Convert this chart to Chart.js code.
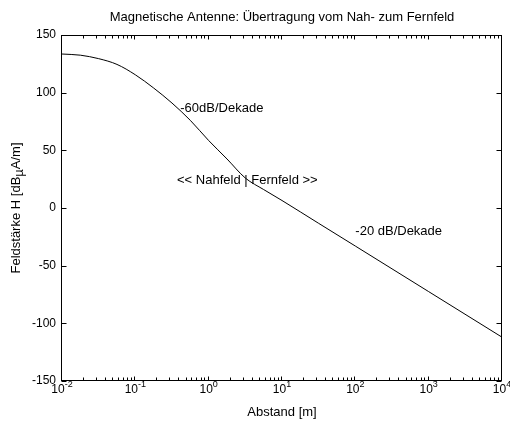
<!DOCTYPE html>
<html>
<head>
<meta charset="utf-8">
<script src="https://cdn.jsdelivr.net/npm/chart.js@4"></script>
<style>
  html, body { margin: 0; padding: 0; background: #fff; }
  canvas { display: block; }
</style>
</head>
<body>
<canvas id="chart" width="510" height="422"></canvas>
<script>
// ---------------- Data ----------------
const distances = [0.01, 0.0178, 0.0316, 0.0562, 0.1, 0.178, 0.316, 0.562, 1, 1.78, 3.16, 5.62, 10, 31.6, 100, 1000, 10000];
const fieldStrength = [133.5, 132.5, 129.5, 124.5, 115.5, 104, 91, 76, 58.5, 42.5, 26, 16, 6.5, -13.3, -33, -72.5, -112];

const yTicks = [150, 100, 50, 0, -50, -100, -150];
const xExponents = [-2, -1, 0, 1, 2, 3, 4];

const titleText = "Magnetische Antenne: Übertragung vom Nah- zum Fernfeld";
const xTitle = "Abstand [m]";
const yTitleParts = ["Feldstärke H [dB", "µ", "A/m]"];

const annotations = [
  { x: 0.41, y: 86.5, text: "-60dB/Dekade" },
  { x: 0.37, y: 23.5, text: "<< Nahfeld | Fernfeld >>" },
  { x: 100, y: -20.5, text: "-20 dB/Dekade" }
];

const TICK_FONT = "12px 'Liberation Sans', Arial, sans-serif";
const TEXT_FONT = "13px 'Liberation Sans', Arial, sans-serif";
const SMALL_FONT = "9px 'Liberation Sans', Arial, sans-serif";

// ---------------- Axes plugin (MATLAB style box + inward ticks) ----------------
const matlabAxes = {
  id: "matlabAxes",
  beforeDraw(chart) {
    const ctx = chart.ctx;
    ctx.save();
    ctx.fillStyle = "#fff";
    ctx.fillRect(0, 0, chart.width, chart.height);
    ctx.restore();
  },
  afterDraw(chart) {
    const { ctx, chartArea: a } = chart;
    const xs = chart.scales.x, ys = chart.scales.y;
    const L = Math.round(a.left) - 0.5, R = Math.round(a.right) - 0.5;
    const T = Math.round(a.top) + 0.5, B = Math.round(a.bottom) - 0.5;

    ctx.save();
    ctx.strokeStyle = "#000";
    ctx.lineWidth = 1;
    ctx.strokeRect(L, T, R - L, B - T);

    ctx.beginPath();
    // x ticks, major and minor, bottom and top
    xExponents.forEach((e, i) => {
      for (let k = 1; k <= 9; k++) {
        if (k > 1 && i === xExponents.length - 1) break;
        const px = Math.round(xs.getPixelForValue(k * Math.pow(10, e))) - 0.5;
        const len = k === 1 ? 4 : 3;
        ctx.moveTo(px, B); ctx.lineTo(px, B - len);
        ctx.moveTo(px, T); ctx.lineTo(px, T + len);
      }
    });
    // y ticks, left and right
    yTicks.forEach(v => {
      const py = Math.round(ys.getPixelForValue(v)) + 0.5;
      ctx.moveTo(L, py); ctx.lineTo(L + 5, py);
      ctx.moveTo(R, py); ctx.lineTo(R - 5, py);
    });
    ctx.stroke();

    ctx.fillStyle = "#000";

    // y tick labels
    ctx.font = TICK_FONT;
    ctx.textAlign = "right";
    ctx.textBaseline = "middle";
    yTicks.forEach(v => {
      ctx.fillText(String(v), a.left - 6, ys.getPixelForValue(v));
    });

    // x tick labels 10^n
    xExponents.forEach(e => {
      const px = xs.getPixelForValue(Math.pow(10, e));
      ctx.font = TICK_FONT;
      const wBase = ctx.measureText("10").width;
      ctx.font = SMALL_FONT;
      const wExp = ctx.measureText(String(e)).width;
      const start = px - (wBase + wExp) / 2;
      ctx.textAlign = "left";
      ctx.textBaseline = "middle";
      ctx.font = TICK_FONT;
      ctx.fillText("10", start, a.bottom + 9);
      ctx.font = SMALL_FONT;
      ctx.fillText(String(e), start + wBase, a.bottom + 4);
    });

    // titles
    ctx.font = TEXT_FONT;
    ctx.textAlign = "center";
    ctx.textBaseline = "middle";
    ctx.fillText(xTitle, (a.left + a.right) / 2, a.bottom + 31);
    ctx.fillText(titleText, (a.left + a.right) / 2, a.top - 18);

    // rotated y title with subscript µ
    ctx.save();
    ctx.translate(16, (a.top + a.bottom) / 2);
    ctx.rotate(-Math.PI / 2);
    const widths = yTitleParts.map(t => ctx.measureText(t).width);
    const total = widths.reduce((s, w) => s + w, 0);
    let cx = -total / 2;
    ctx.textAlign = "left";
    yTitleParts.forEach((t, i) => {
      ctx.fillText(t, cx, i === 1 ? 3 : 0);
      cx += widths[i];
    });
    ctx.restore();

    // text annotations placed in data coordinates
    ctx.textAlign = "left";
    ctx.textBaseline = "middle";
    annotations.forEach(n => {
      ctx.fillText(n.text, xs.getPixelForValue(n.x), ys.getPixelForValue(n.y));
    });
    ctx.restore();
  }
};

// ---------------- Chart ----------------
new Chart(document.getElementById("chart"), {
  type: "line",
  data: {
    datasets: [{
      data: distances.map((d, i) => ({ x: d, y: fieldStrength[i] })),
      borderColor: "#000",
      borderWidth: 1,
      pointRadius: 0,
      fill: false,
      cubicInterpolationMode: "monotone"
    }]
  },
  options: {
    responsive: false,
    animation: false,
    devicePixelRatio: 1,
    layout: { padding: { left: 62, right: 8, top: 35, bottom: 41 } },
    scales: {
      x: { type: "logarithmic", min: 0.01, max: 10000, display: false },
      y: { type: "linear", min: -150, max: 150, display: false }
    },
    plugins: { legend: { display: false }, tooltip: { enabled: false } }
  },
  plugins: [matlabAxes]
});
</script>
</body>
</html>
